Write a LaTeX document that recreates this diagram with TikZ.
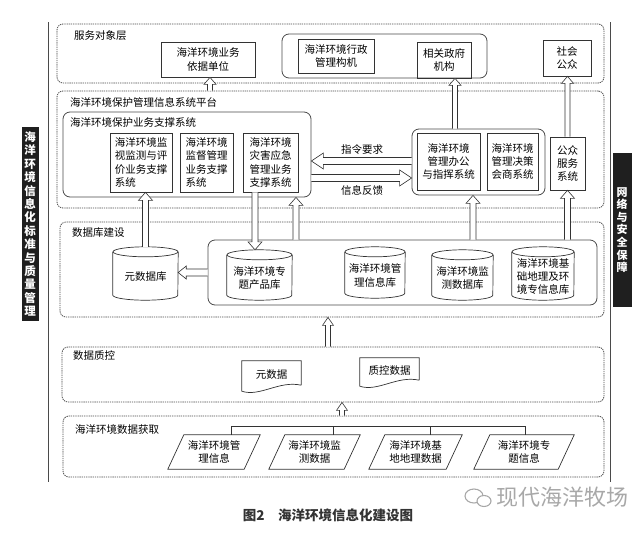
\documentclass[tikz,border=0pt]{standalone}
\usepackage{fontspec}
\setmainfont{Noto Sans CJK SC}
\usetikzlibrary{calc}
\newcommand\txt{\fontsize{10.5}{13.3}\selectfont}
\definecolor{ln}{HTML}{333333}
\definecolor{dl}{HTML}{4A4A4A}
\definecolor{wm}{HTML}{A8A8A8}
\tikzset{
  lay/.style={draw=dl, line width=0.8pt, dash pattern=on 1.3pt off 0.9pt, rounded corners=6pt},
  grp/.style={draw=dl, line width=0.8pt, rounded corners=7pt},
  box/.style={draw=ln, line width=0.7pt, align=center, inner sep=0pt, font=\txt},
  lbl/.style={anchor=west, inner sep=0pt, font=\txt},
  ghost/.style={inner sep=0pt, align=center, font=\txt},
  blk/.style={draw=ln, line width=0.6pt, fill=white},
  shp/.style={draw=ln, line width=0.7pt, fill=white},
  bar/.style={fill=black!88, text=white, inner sep=0pt, align=center},
}
% hollow block arrows: #1 start, #2 target, #3 shaft half width, #4 head half width, #5 head length
\newcommand\arrU[5]{\draw[blk] let \p1=#1, \p2=#2 in (\x1-#3,\y1) -- (\x1-#3,\y2-#5) -- (\x1-#4,\y2-#5) -- (\x1,\y2) -- (\x1+#4,\y2-#5) -- (\x1+#3,\y2-#5) -- (\x1+#3,\y1);}
\newcommand\arrD[5]{\draw[blk] let \p1=#1, \p2=#2 in (\x1-#3,\y1) -- (\x1-#3,\y2+#5) -- (\x1-#4,\y2+#5) -- (\x1,\y2) -- (\x1+#4,\y2+#5) -- (\x1+#3,\y2+#5) -- (\x1+#3,\y1);}
\newcommand\arrL[5]{\draw[blk] let \p1=#1, \p2=#2 in (\x1,\y1+#3) -- (\x2+#5,\y1+#3) -- (\x2+#5,\y1+#4) -- (\x2,\y1) -- (\x2+#5,\y1-#4) -- (\x2+#5,\y1-#3) -- (\x1,\y1-#3);}
\newcommand\arrR[5]{\draw[blk] let \p1=#1, \p2=#2 in (\x1,\y1+#3) -- (\x2-#5,\y1+#3) -- (\x2-#5,\y1+#4) -- (\x2,\y1) -- (\x2-#5,\y1-#4) -- (\x2-#5,\y1-#3) -- (\x1,\y1-#3);}
% cylinder: name, centre, width, height, text
\newcommand\cyl[5]{%
  \node[ghost, minimum width=#3pt, minimum height=#4pt] (#1) at (#2) {};
  \draw[shp] (#1.north west) -- (#1.south west) arc[start angle=180, end angle=360, x radius=#3pt/2, y radius=5pt] -- (#1.north east);
  \draw[shp] (#1.north) ellipse[x radius=#3pt/2, y radius=5pt];
  \node[ghost] (#1t) at ([yshift=-3pt]#1.center) {#5};}
% document shape
\newcommand\docshape[1]{\draw[shp] ([yshift=3pt]#1.south east) -- (#1.north east) -- (#1.north west) -- ([yshift=-3pt]#1.south west) .. controls ([xshift=18pt,yshift=-9pt]#1.south west) and ([xshift=-22pt,yshift=8pt]#1.south east) .. ([yshift=3pt]#1.south east);}
% parallelogram
\newcommand\para[1]{\draw[shp] ([xshift=8pt]#1.north west) -- ([xshift=8pt]#1.north east) -- ([xshift=-8pt]#1.south east) -- ([xshift=-8pt]#1.south west) -- cycle;}

\begin{document}
\begin{tikzpicture}[x=1pt,y=-1pt]
\useasboundingbox (0,0) rectangle (640,536);

% frame lines
\coordinate (fl1) at (48,22); \coordinate (fl2) at (48,482);
\coordinate (fr1) at (610,22); \coordinate (fr2) at (610,482);
\draw[dl, line width=0.7pt] (fl1) -- (fl2);
\draw[dl, line width=0.7pt] (fr1) -- (fr2);

% side bars
\node[bar, minimum width=17pt, minimum height=194pt, font=\bfseries\fontsize{11.5}{13.4}\selectfont] (lbar) at (30,224)
  {海\\洋\\环\\境\\信\\息\\化\\标\\准\\与\\质\\量\\管\\理};
\node[bar, minimum width=19pt, minimum height=154pt, font=\bfseries\fontsize{11}{12.6}\selectfont] (rbar) at (622,230)
  {网\\络\\与\\安\\全\\保\\障};

% layers
\node[lay, minimum width=547pt, minimum height=59pt] (L1) at (330.5,53.5) {};
\node[lay, minimum width=547pt, minimum height=117pt] (L2) at (330.5,149.5) {};
\node[lay, minimum width=544pt, minimum height=95pt] (L3) at (332,269.5) {};
\node[lay, minimum width=542pt, minimum height=55pt] (L4) at (333,374.5) {};
\node[lay, minimum width=541pt, minimum height=61pt] (L5) at (333.5,446.5) {};

\node[lbl] (L1t) at (74,36) {服务对象层};
\node[lbl] (L2t) at (70,102) {海洋环境保护管理信息系统平台};
\node[lbl] (L3t) at (72,233) {数据库建设};
\node[lbl] (L4t) at (73,356) {数据质控};
\node[lbl] (L5t) at (75,429) {海洋环境数据获取};

% layer 1
\node[grp, minimum width=205pt, minimum height=44pt] (g1) at (384.5,56) {};
\node[box, minimum width=94pt, minimum height=35pt] (b11) at (208,59.5) {海洋环境业务\\依据单位};
\node[box, minimum width=76pt, minimum height=34pt] (b12) at (336,56) {海洋环境行政\\管理构机};
\node[box, minimum width=54pt, minimum height=36pt] (b13) at (444,60) {相关政府\\机构};
\node[box, minimum width=48pt, minimum height=36pt] (b14) at (567,58) {社会\\公众};

% layer 2
\node[grp, minimum width=248pt, minimum height=85pt] (S) at (187,154.5) {};
\node[lbl] (St) at (70,122) {海洋环境保护业务支撑系统};
\node[box, align=left, minimum width=62pt, minimum height=59pt] (b21) at (141,162.5) {海洋环境监\\视监测与评\\价业务支撑\\系统};
\node[box, align=left, minimum width=53pt, minimum height=59pt] (b22) at (206.5,162.5) {海洋环境\\监督管理\\业务支撑\\系统};
\node[box, align=left, minimum width=55pt, minimum height=59pt] (b23) at (270.5,162.5) {海洋环境\\灾害应急\\管理业务\\支撑系统};
\node[grp, minimum width=133pt, minimum height=66pt] (g2) at (478.5,162) {};
\node[box, minimum width=63pt, minimum height=57pt] (b24) at (448.5,161.5) {海洋环境\\管理办公\\与指挥系统};
\node[box, minimum width=51pt, minimum height=57pt] (b25) at (512.5,161.5) {海洋环境\\管理决策\\会商系统};
\node[box, minimum width=35pt, minimum height=53pt] (b26) at (567.5,163.5) {公众\\服务\\系统};
\node[ghost] (cmd) at (362,150) {指令要求};
\node[ghost] (fb) at (362,190) {信息反馈};

% layer 3
\node[grp, minimum width=389pt, minimum height=65pt] (D) at (402.5,272.5) {};
\cyl{cy0}{145.5,273.5}{65}{43}{元数据库}
\cyl{cy1}{259.5,275}{65}{40}{海洋环境专\\题产品库}
\cyl{cy2}{375,272.5}{60}{41}{海洋环境管\\理信息库}
\cyl{cy3}{462.5,275}{61}{40}{海洋环境监\\测数据库}
\cyl{cy4}{543,273.5}{62}{43}{海洋环境基\\础地理及环\\境专信息库}

% layer 4
\node[ghost, minimum width=59pt, minimum height=27pt] (d1) at (271.5,374.5) {};
\docshape{d1}
\node[ghost] (d1t) at (d1.center) {元数据};
\node[ghost, minimum width=59pt, minimum height=25pt] (d2) at (389.5,370.5) {};
\docshape{d2}
\node[ghost] (d2t) at (d2.center) {质控数据};

% layer 5
\node[ghost, minimum width=76pt, minimum height=34pt] (p1) at (214,452) {};
\node[ghost, minimum width=75pt, minimum height=34pt] (p2) at (314.5,452) {};
\node[ghost, minimum width=77pt, minimum height=34pt] (p3) at (415.5,452) {};
\node[ghost, minimum width=84pt, minimum height=34pt] (p4) at (524,452) {};
\para{p1}\para{p2}\para{p3}\para{p4}
\node[ghost] (p1t) at (p1.center) {海洋环境管\\理信息};
\node[ghost] (p2t) at (p2.center) {海洋环境监\\测数据};
\node[ghost] (p3t) at (p3.center) {海洋环境基\\地地理数据};
\node[ghost] (p4t) at (p4.center) {海洋环境专\\题信息};
\coordinate (t1) at (231,426); \coordinate (t2) at (333,426);
\coordinate (t3) at (430,426); \coordinate (t4) at (525,426);
\draw[ln, line width=0.7pt] (t1) -- (t4);
\draw[ln, line width=0.7pt] (t1) -- (t1 |- p1.north);
\draw[ln, line width=0.7pt] (t2) -- (t2 |- p2.north);
\draw[ln, line width=0.7pt] (t3) -- (t3 |- p3.north);
\draw[ln, line width=0.7pt] (t4) -- (t4 |- p4.north);

% arrow positions
\coordinate (xa) at (210,0); \coordinate (xb) at (455,0);
\coordinate (xd) at (255,0); \coordinate (xe) at (296,0);
\coordinate (xf) at (473,0); \coordinate (xg) at (328,0);
\coordinate (xh) at (342,0);
\coordinate (ya) at (0,161); \coordinate (yb) at (0,178);

\arrU{(L2.north -| xa)}{(b11.south)}{2.5pt}{6pt}{7pt}
\arrU{(g2.north -| xb)}{(b13.south)}{2.5pt}{6pt}{7pt}
\arrU{(b26.north)}{(b14.south)}{2.5pt}{6pt}{7pt}
\arrU{([yshift=5pt]cy0.north)}{(b21.south)}{3pt}{7pt}{8pt}
\arrD{(b23.south -| xd)}{([yshift=5pt]cy1.north)}{3pt}{7pt}{8pt}
\arrU{(D.north -| xe)}{(S.south)}{3pt}{7pt}{8pt}
\arrU{(D.north -| xf)}{(g2.south)}{3pt}{7pt}{8pt}
\arrU{(D.north -| b26.south)}{(b26.south)}{3pt}{7pt}{8pt}
\arrL{(D.west)}{(cy0.east)}{3.5pt}{6.5pt}{8pt}
\arrL{(g2.west |- ya)}{(S.east)}{3.5pt}{8pt}{12pt}
\arrR{(S.east |- yb)}{(g2.west)}{3.5pt}{8pt}{12pt}
\arrU{(L4.north -| xg)}{(L3.south)}{2.5pt}{5.5pt}{8pt}
\arrU{(L5.north -| xh)}{(L4.south)}{2.5pt}{5.5pt}{8pt}

% caption and watermark
\node[ghost, font=\bfseries\fontsize{13.5}{15}\selectfont, text=black!80] (cap) at (328,515) {图2\hspace{1em}海洋环境信息化建设图};
\draw[wm, line width=1.1pt] (474,496) ellipse[x radius=9pt, y radius=7pt];
\draw[wm, line width=1.1pt, fill=white] (484,501) ellipse[x radius=7pt, y radius=5.5pt];
\node[ghost, anchor=west, text=wm, font=\fontsize{22}{24}\selectfont] (wmt) at (496,497) {现代海洋牧场};
\end{tikzpicture}
\end{document}
